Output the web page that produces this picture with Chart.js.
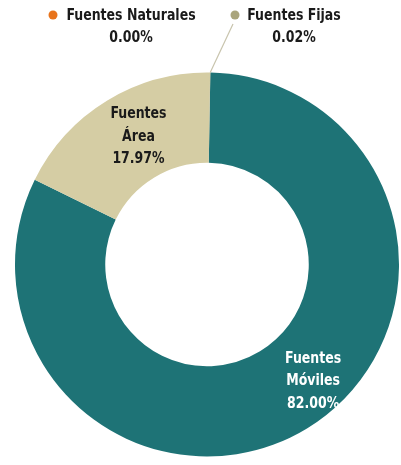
<!DOCTYPE html>
<html>
<head>
<meta charset="utf-8">
<script src="https://cdn.jsdelivr.net/npm/chart.js@4"></script>
<style>
  html, body { margin: 0; padding: 0; background: #fff; }
  #wrap { width: 401px; height: 465px; position: relative; }
</style>
</head>
<body>
<div id="wrap"><canvas id="graficaFuentes"></canvas></div>
<script>
// emisiones por tipo de fuente (%)
const fuentes = ['Fuentes Móviles', 'Fuentes Área', 'Fuentes Fijas', 'Fuentes Naturales'];
const porcentajes = [82.00, 17.97, 0.02, 0.00];
const colores = ['#1e7376', '#d5cda4', '#aaa57c', '#e8741c'];

const FUENTE = '"Liberation Sans Narrow", "DejaVu Sans Condensed", sans-serif';

const etiquetas = {
  id: 'etiquetas',
  afterDatasetsDraw(chart) {
    const ctx = chart.ctx;
    const arcos = chart.getDatasetMeta(0).data;
    ctx.save();
    ctx.font = 'bold 16px ' + FUENTE;
    ctx.textAlign = 'center';
    ctx.textBaseline = 'middle';

    // texto en varias líneas, un poco estrecho
    const texto = (lineas, x, y, color) => {
      ctx.fillStyle = color;
      lineas.forEach((l, i) => {
        ctx.save();
        ctx.translate(x, y + (i - (lineas.length - 1) / 2) * 22.5);
        ctx.scale(0.87, 1);
        ctx.fillText(l, 0, 0);
        ctx.restore();
      });
    };
    const punto = (arco, fa, fr) => {
      const p = arco.getProps(['x', 'y', 'startAngle', 'endAngle', 'innerRadius', 'outerRadius'], true);
      const a = p.startAngle + (p.endAngle - p.startAngle) * fa;
      const r = p.innerRadius + (p.outerRadius - p.innerRadius) * fr;
      return { x: p.x + Math.cos(a) * r, y: p.y + Math.sin(a) * r };
    };

    // Móviles y Área van dentro del anillo
    let p = punto(arcos[0], 0.463, 0.62);
    texto(['Fuentes', 'Móviles', porcentajes[0].toFixed(2) + '%'], p.x, p.y, '#ffffff');
    p = punto(arcos[1], 0.55, 0.48);
    texto(['Fuentes', 'Área', porcentajes[1].toFixed(2) + '%'], p.x, p.y, '#1a1a1a');

    // las fuentes pequeñas van arriba, con punto de color
    const arriba = [
      { i: 3, dot: 53, x: 131, nombre: 'Fuentes Naturales' },
      { i: 2, dot: 235, x: 294, nombre: 'Fuentes Fijas' }
    ];
    arriba.forEach(e => {
      ctx.fillStyle = colores[e.i];
      ctx.beginPath();
      ctx.arc(e.dot, 15, 4.5, 0, Math.PI * 2);
      ctx.fill();
      texto([e.nombre, porcentajes[e.i].toFixed(2) + '%'], e.x, 27, '#1a1a1a');
    });

    // línea guía de Fuentes Fijas
    p = punto(arcos[2], 0.5, 1);
    ctx.strokeStyle = '#c8c4ad';
    ctx.lineWidth = 1.2;
    ctx.beginPath();
    ctx.moveTo(p.x, p.y);
    ctx.lineTo(233, 24);
    ctx.stroke();
    ctx.restore();
  }
};

new Chart(document.getElementById('graficaFuentes'), {
  type: 'doughnut',
  data: {
    labels: fuentes,
    datasets: [{
      data: porcentajes,
      backgroundColor: colores,
      borderWidth: 0
    }]
  },
  options: {
    responsive: true,
    maintainAspectRatio: false,
    animation: false,
    cutout: '53%',
    rotation: 1,
    layout: { padding: { top: 72, bottom: 8, left: 15, right: 2 } },
    plugins: {
      legend: { display: false },
      tooltip: { enabled: false }
    }
  },
  plugins: [etiquetas]
});
</script>
</body>
</html>
